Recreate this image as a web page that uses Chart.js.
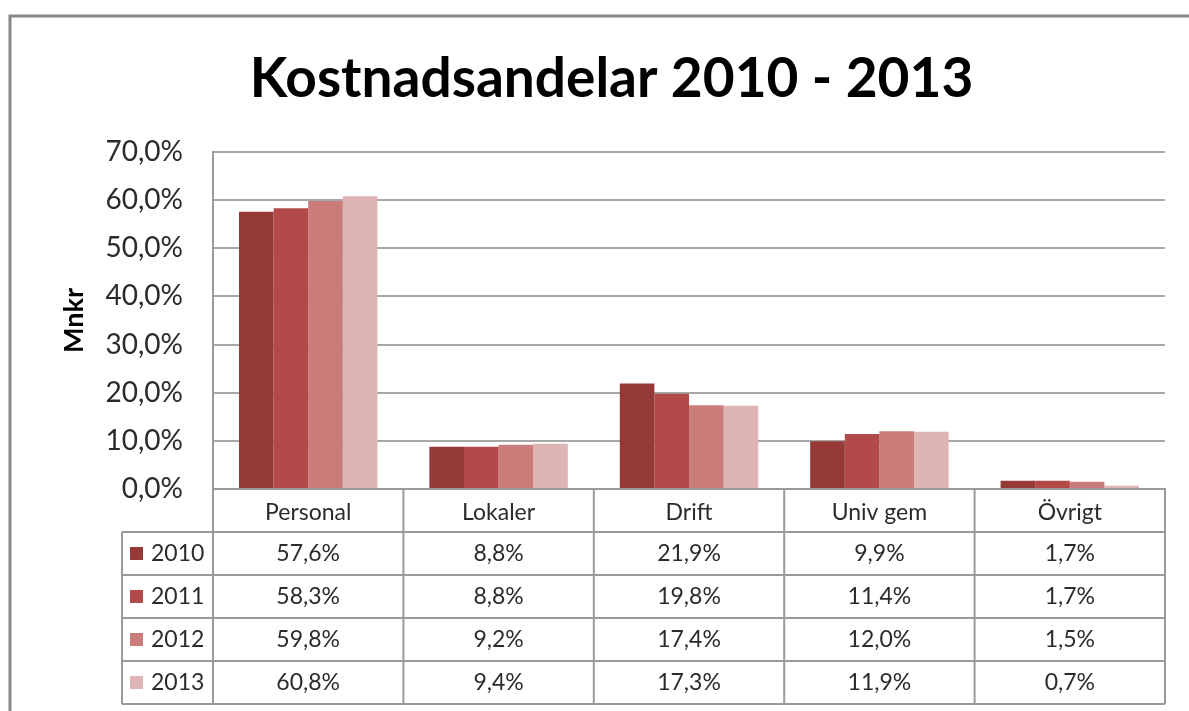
<!DOCTYPE html>
<html>
<head>
<meta charset="utf-8">
<script src="https://cdn.jsdelivr.net/npm/chart.js"></script>
<style>
  html, body { margin: 0; padding: 0; background: #fff; }
  #wrap { width: 1189px; height: 711px; }
</style>
</head>
<body>
<div id="wrap"><canvas id="chart" width="1189" height="711"></canvas></div>
<script>
// chart data
var categories = ['Personal', 'Lokaler', 'Drift', 'Univ gem', 'Övrigt'];
var years = ['2010', '2011', '2012', '2013'];
var values2010 = [57.6, 8.8, 21.9, 9.9, 1.7];
var values2011 = [58.3, 8.8, 19.8, 11.4, 1.7];
var values2012 = [59.8, 9.2, 17.4, 12.0, 1.5];
var values2013 = [60.8, 9.4, 17.3, 11.9, 0.7];
var yearColors = ['#963a38', '#b14a48', '#c97c7a', '#deb4b4'];

var seriesValues = [values2010, values2011, values2012, values2013];
var FONT = 'Lato, "Open Sans", sans-serif';
var TEXT = '#2b2b2b';
var LINE = '#9a9a9a';

function fmt(v) {
    return v.toFixed(1).replace('.', ',') + '%';
}

// outer frame around the chart
var framePlugin = {
    id: 'frame',
    beforeDraw: function(chart) {
        var ctx = chart.ctx;
        ctx.save();
        ctx.strokeStyle = '#878787';
        ctx.lineWidth = 3;
        ctx.strokeRect(10, 16, 1400, 1000);
        ctx.restore();
    }
};

// data table under the plot (legend keys + values)
var tablePlugin = {
    id: 'dataTable',
    afterDraw: function(chart) {
        var ctx = chart.ctx;
        var area = chart.chartArea;
        var colW = (area.right - area.left) / categories.length;
        var rowH = 43;
        var top = area.bottom;
        var bottom = top + rowH * (years.length + 1);
        var legendLeft = 122;

        ctx.save();
        ctx.strokeStyle = LINE;
        ctx.lineWidth = 2;

        // vertical lines
        for (var k = 0; k <= categories.length; k++) {
            var x = area.left + k * colW;
            ctx.beginPath();
            ctx.moveTo(x, top);
            ctx.lineTo(x, bottom);
            ctx.stroke();
        }
        ctx.beginPath();
        ctx.moveTo(legendLeft, top + rowH);
        ctx.lineTo(legendLeft, bottom);
        ctx.stroke();

        // horizontal lines
        for (var r = 1; r <= years.length + 1; r++) {
            var y = top + r * rowH;
            ctx.beginPath();
            ctx.moveTo(legendLeft, y);
            ctx.lineTo(area.right, y);
            ctx.stroke();
        }

        ctx.font = '23px ' + FONT;
        ctx.fillStyle = TEXT;
        ctx.textBaseline = 'middle';

        for (var i = 0; i < years.length; i++) {
            var cy = top + rowH * (i + 1) + rowH / 2;
            // legend key
            ctx.fillStyle = yearColors[i];
            ctx.fillRect(130, cy - 6.5, 13, 13);
            ctx.fillStyle = TEXT;
            ctx.textAlign = 'left';
            ctx.fillText(years[i], 151, cy);
            // values
            ctx.textAlign = 'center';
            for (var c = 0; c < categories.length; c++) {
                ctx.fillText(fmt(seriesValues[i][c]), area.left + colW * (c + 0.5), cy);
            }
        }
        ctx.restore();
    }
};

var datasets = years.map(function(y, i) {
    return {
        label: y,
        data: seriesValues[i],
        backgroundColor: yearColors[i],
        borderWidth: 0,
        categoryPercentage: 0.727,
        barPercentage: 1.0
    };
});

new Chart(document.getElementById('chart'), {
    type: 'bar',
    data: { labels: categories, datasets: datasets },
    plugins: [framePlugin, tablePlugin],
    options: {
        responsive: false,
        animation: false,
        layout: { padding: { top: 0, left: 58, right: 24, bottom: 7 } },
        plugins: {
            legend: { display: false },
            tooltip: { enabled: false },
            title: {
                display: true,
                text: 'Kostnadsandelar 2010 - 2013',
                color: '#000',
                font: { family: FONT, size: 55, weight: 'bold' },
                padding: { top: 46, bottom: 40 }
            }
        },
        scales: {
            x: {
                grid: { display: false },
                border: { display: true, color: LINE, width: 2 },
                ticks: {
                    color: TEXT,
                    font: { family: FONT, size: 23 },
                    padding: 2,
                    maxRotation: 0
                },
                afterFit: function(scale) { scale.height = 215; }
            },
            y: {
                min: 0,
                max: 70,
                ticks: {
                    stepSize: 10,
                    color: TEXT,
                    font: { family: FONT, size: 28 },
                    padding: 30,
                    callback: function(v) { return fmt(v); }
                },
                grid: { color: '#a8a8a8', lineWidth: 2, drawTicks: false },
                border: { display: true, color: LINE, width: 2 },
                title: {
                    display: true,
                    text: 'Mnkr',
                    color: '#000',
                    font: { family: FONT, size: 27, weight: 'bold' },
                    padding: { top: 0, bottom: 0 }
                },
                afterFit: function(scale) { scale.width = 155; }
            }
        }
    }
});
</script>
</body>
</html>
